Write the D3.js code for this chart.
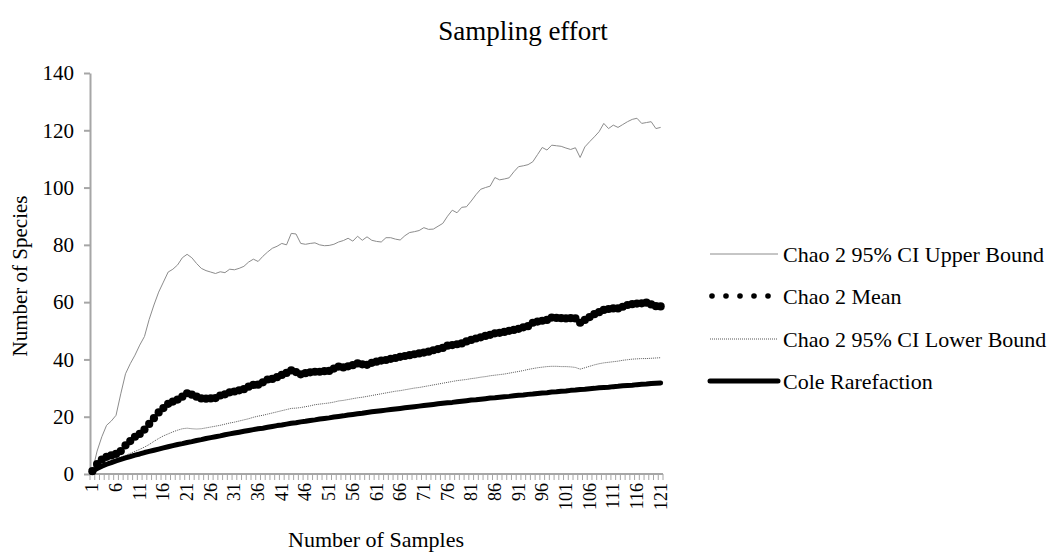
<!DOCTYPE html>
<html>
<head>
<meta charset="utf-8">
<script src="https://cdn.jsdelivr.net/npm/d3@7"></script>
<style>
  body { margin: 0; background: #fff; }
  text { font-family: "Liberation Serif", "DejaVu Serif", serif; fill: #000; }
</style>
</head>
<body>
<div id="chart"></div>
<script>
// Species accumulation: Chao 2 estimates vs Cole rarefaction, 121 samples.

const samples = d3.range(1, 122); // sample numbers 1..121 (category labels)
const xTickLabels = [1, 6, 11, 16, 21, 26, 31, 36, 41, 46, 51, 56, 61, 66, 71, 76, 81, 86, 91, 96, 101, 106, 111, 116, 121];
const yTicks = [0, 20, 40, 60, 80, 100, 120, 140];

const chaoUpper = [
  1, 8, 13, 17, 18.5, 20.5, 28, 35, 38.5, 41.5,
  45, 48, 54, 59, 63.5, 67, 70.5, 71.5, 73, 75.5,
  76.7, 75.5, 73.5, 71.8, 71, 70.5, 70, 70.6, 70.3, 71.5,
  71.3, 71.8, 72.5, 74, 75, 74.2, 76, 77.5, 78.8, 79.5,
  80.5, 80, 84, 83.8, 80.5, 80.2, 80.5, 80.7, 80, 79.7,
  79.8, 80.2, 81, 81.5, 82.3, 81.3, 83, 81.6, 82.8, 81.6,
  81.2, 81, 82.5, 82.5, 82, 81.7, 83.2, 84.3, 84.6, 85,
  86, 85.4, 85.5, 86.5, 87.5, 90, 92.1, 91.2, 93.1, 93.3,
  95.3, 97.5, 99.4, 100, 100.5, 103.5, 102.7, 103, 103.4, 105.5,
  107.3, 107.6, 108, 109, 111.5, 114, 113.1, 114.8, 114.6, 114.4,
  113.8, 113.3, 113.9, 110.5, 114.2, 116, 117.7, 119.5, 122.4, 120.6,
  121.8, 121, 122, 123, 123.8, 124.2, 122.4, 122.7, 123, 120.6,
  121
];

const chaoMean = [
  1, 3.5, 5, 6, 6.5, 7, 8, 10, 11.5, 13,
  14, 15.5, 17.5, 19.5, 21.5, 23, 24.5, 25.3, 26, 27,
  28.2, 27.7, 27, 26.4, 26.3, 26.4, 26.5, 27.4, 27.8, 28.5,
  28.8, 29.2, 29.6, 30.5, 31.1, 31.2, 32, 33, 33.2, 33.8,
  34.6, 35.3, 36.2, 35.6, 34.8, 35.2, 35.5, 35.7, 35.7, 35.9,
  36, 36.8, 37.5, 37.2, 37.6, 38, 38.6, 38.3, 38.1, 38.8,
  39.2, 39.6, 39.8, 40.2, 40.5, 40.9, 41.2, 41.5, 41.8, 42.1,
  42.4, 42.7, 43.2, 43.6, 44, 44.8, 45, 45.3, 45.6, 46.3,
  46.8, 47.3, 47.7, 48.2, 48.6, 49.1, 49.3, 49.6, 50, 50.3,
  50.7, 51.2, 51.6, 52.8, 53.2, 53.5, 53.8, 54.6, 54.5, 54.4,
  54.3, 54.4, 54.3, 52.8, 53.8, 54.8, 55.8, 56.5, 57.3, 57.6,
  57.8, 57.8, 58.4, 59, 59.3, 59.5, 59.6, 59.8, 59.2, 58.6,
  58.5
];

const chaoLower = [
  1, 2, 3, 3.8, 4.5, 5.2, 5.8, 6.5, 7.2, 7.9,
  8.6, 9.4, 10.3, 11.4, 12.4, 13.3, 14, 14.7, 15.3, 15.8,
  16, 15.8, 15.7, 15.8, 16.1, 16.4, 16.7, 17, 17.4, 17.8,
  18.1, 18.5, 18.9, 19.3, 19.8, 20.2, 20.5, 20.9, 21.3, 21.7,
  22.1, 22.5, 22.9, 23, 23.2, 23.5, 23.8, 24.2, 24.4, 24.6,
  24.8, 25.1, 25.5, 25.7, 26, 26.3, 26.6, 26.8, 27.1, 27.4,
  27.7, 28, 28.3, 28.6, 28.9, 29.1, 29.4, 29.7, 30, 30.2,
  30.5, 30.8, 31.1, 31.4, 31.7, 32, 32.3, 32.6, 32.8, 33,
  33.3, 33.5, 33.8, 34, 34.3, 34.5, 34.7, 34.9, 35.2, 35.5,
  35.8, 36.1, 36.5, 36.8, 37.1, 37.3, 37.5, 37.6, 37.6, 37.5,
  37.5, 37.4, 37.2, 36.6, 37.1, 37.6, 38.1, 38.5, 38.8, 39,
  39.2, 39.4, 39.7, 39.9, 40.1, 40.2, 40.3, 40.3, 40.4, 40.5,
  40.6
];

const coleRarefaction = [
  1.0, 1.9, 2.7, 3.4, 4.0, 4.6, 5.1, 5.6, 6.1, 6.6,
  7.0, 7.5, 7.9, 8.3, 8.7, 9.1, 9.5, 9.9, 10.3, 10.6,
  11.0, 11.3, 11.7, 12.0, 12.4, 12.7, 13.0, 13.3, 13.7, 14.0,
  14.3, 14.6, 14.9, 15.2, 15.5, 15.8, 16.0, 16.3, 16.6, 16.9,
  17.1, 17.4, 17.7, 17.9, 18.2, 18.4, 18.7, 18.9, 19.2, 19.4,
  19.6, 19.9, 20.1, 20.3, 20.6, 20.8, 21.0, 21.2, 21.5, 21.7,
  21.9, 22.1, 22.3, 22.5, 22.7, 22.9, 23.1, 23.3, 23.5, 23.7,
  23.9, 24.1, 24.3, 24.5, 24.7, 24.9, 25.0, 25.2, 25.4, 25.6,
  25.8, 25.9, 26.1, 26.3, 26.5, 26.6, 26.8, 27.0, 27.1, 27.3,
  27.5, 27.6, 27.8, 27.9, 28.1, 28.3, 28.4, 28.6, 28.7, 28.9,
  29.0, 29.2, 29.3, 29.5, 29.6, 29.8, 29.9, 30.1, 30.2, 30.3,
  30.5, 30.6, 30.8, 30.9, 31.0, 31.2, 31.3, 31.4, 31.6, 31.7,
  31.8
];

const seriesNames = ["Chao 2 95% CI Upper Bound", "Chao 2 Mean", "Chao 2 95% CI Lower Bound", "Cole Rarefaction"];

const width = 1047;
const height = 555;
const margin = { top: 73, right: 384, bottom: 81, left: 90 };

const svg = d3.select("#chart")
  .append("svg")
  .attr("width", width)
  .attr("height", height);

const x = d3.scaleBand()
  .domain(samples)
  .range([margin.left, width - margin.right])
  .padding(0);

const y = d3.scaleLinear()
  .domain([0, 140])
  .range([height - margin.bottom, margin.top]);

const cx = (i) => x(samples[i]) + x.bandwidth() / 2;
const axisColor = "#a6a6a6";

// title
svg.append("text")
  .attr("x", 523)
  .attr("y", 40)
  .attr("text-anchor", "middle")
  .style("font-size", "27px")
  .text("Sampling effort");

// y axis
const yAxis = svg.append("g")
  .attr("transform", `translate(${margin.left},0)`)
  .call(d3.axisLeft(y).tickValues(yTicks).tickSize(6).tickPadding(10).tickSizeOuter(0));
yAxis.select(".domain").attr("stroke", axisColor).attr("stroke-width", 2);
yAxis.selectAll(".tick line").attr("stroke", axisColor).attr("stroke-width", 2);
yAxis.selectAll(".tick text")
  .style("font-size", "21px")
  .style("font-family", '"Liberation Serif", serif')
  .attr("fill", "#000");

// x axis: line, one tick per category boundary, labels every 5th sample
const x0 = y(0);
const xAxis = svg.append("g");
xAxis.append("line")
  .attr("x1", margin.left - 1)
  .attr("x2", width - margin.right)
  .attr("y1", x0)
  .attr("y2", x0)
  .attr("stroke", axisColor)
  .attr("stroke-width", 2);

const boundaries = samples.map((s) => x(s)).concat([x(samples[samples.length - 1]) + x.bandwidth()]);
xAxis.selectAll("line.tick")
  .data(boundaries)
  .enter()
  .append("line")
  .attr("class", "tick")
  .attr("x1", (d) => d)
  .attr("x2", (d) => d)
  .attr("y1", x0)
  .attr("y2", x0 + 6)
  .attr("stroke", axisColor)
  .attr("stroke-width", 1);

xAxis.selectAll("text")
  .data(xTickLabels)
  .enter()
  .append("text")
  .attr("transform", (d) => `translate(${x(d) + x.bandwidth() / 2 + 6},${x0 + 9}) rotate(-90)`)
  .attr("text-anchor", "end")
  .style("font-size", "18px")
  .text((d) => d);

// axis titles
svg.append("text")
  .attr("transform", `translate(27,276) rotate(-90)`)
  .attr("text-anchor", "middle")
  .style("font-size", "21px")
  .text("Number of Species");

svg.append("text")
  .attr("x", 376)
  .attr("y", 547)
  .attr("text-anchor", "middle")
  .style("font-size", "22px")
  .text("Number of Samples");

// series
const line = d3.line()
  .x((d, i) => cx(i))
  .y((d) => y(d));

const plot = svg.append("g");

plot.append("path")
  .datum(chaoUpper)
  .attr("d", line)
  .attr("fill", "none")
  .attr("stroke", "#8c8c8c")
  .attr("stroke-width", 1);

plot.selectAll("circle.mean")
  .data(chaoMean)
  .enter()
  .append("circle")
  .attr("class", "mean")
  .attr("cx", (d, i) => cx(i))
  .attr("cy", (d) => y(d))
  .attr("r", 4.1)
  .attr("fill", "#000");

plot.append("path")
  .datum(chaoLower)
  .attr("d", line)
  .attr("fill", "none")
  .attr("stroke", "#555")
  .attr("stroke-width", 1)
  .attr("stroke-dasharray", "1,1");

plot.append("path")
  .datum(coleRarefaction)
  .attr("d", line)
  .attr("fill", "none")
  .attr("stroke", "#000")
  .attr("stroke-width", 5)
  .attr("stroke-linejoin", "round")
  .attr("stroke-linecap", "round");

// legend
const legendRows = [254, 296, 339, 381];
const legend = svg.append("g");
const lx1 = 710;
const lx2 = 778;

legend.append("line")
  .attr("x1", lx1).attr("x2", lx2)
  .attr("y1", legendRows[0]).attr("y2", legendRows[0])
  .attr("stroke", "#8c8c8c").attr("stroke-width", 1);

legend.selectAll("circle")
  .data([712, 726, 740, 754, 768])
  .enter()
  .append("circle")
  .attr("cx", (d) => d)
  .attr("cy", legendRows[1])
  .attr("r", 2.8)
  .attr("fill", "#000");

legend.append("line")
  .attr("x1", lx1).attr("x2", lx2)
  .attr("y1", legendRows[2]).attr("y2", legendRows[2])
  .attr("stroke", "#555").attr("stroke-width", 1)
  .attr("stroke-dasharray", "1,1");

legend.append("line")
  .attr("x1", lx1).attr("x2", lx2)
  .attr("y1", legendRows[3]).attr("y2", legendRows[3])
  .attr("stroke", "#000").attr("stroke-width", 5)
  .attr("stroke-linecap", "round");

legend.selectAll("text")
  .data(seriesNames)
  .enter()
  .append("text")
  .attr("x", 783)
  .attr("y", (d, i) => legendRows[i])
  .attr("dy", "0.35em")
  .style("font-size", "22px")
  .text((d) => d);
</script>
</body>
</html>
